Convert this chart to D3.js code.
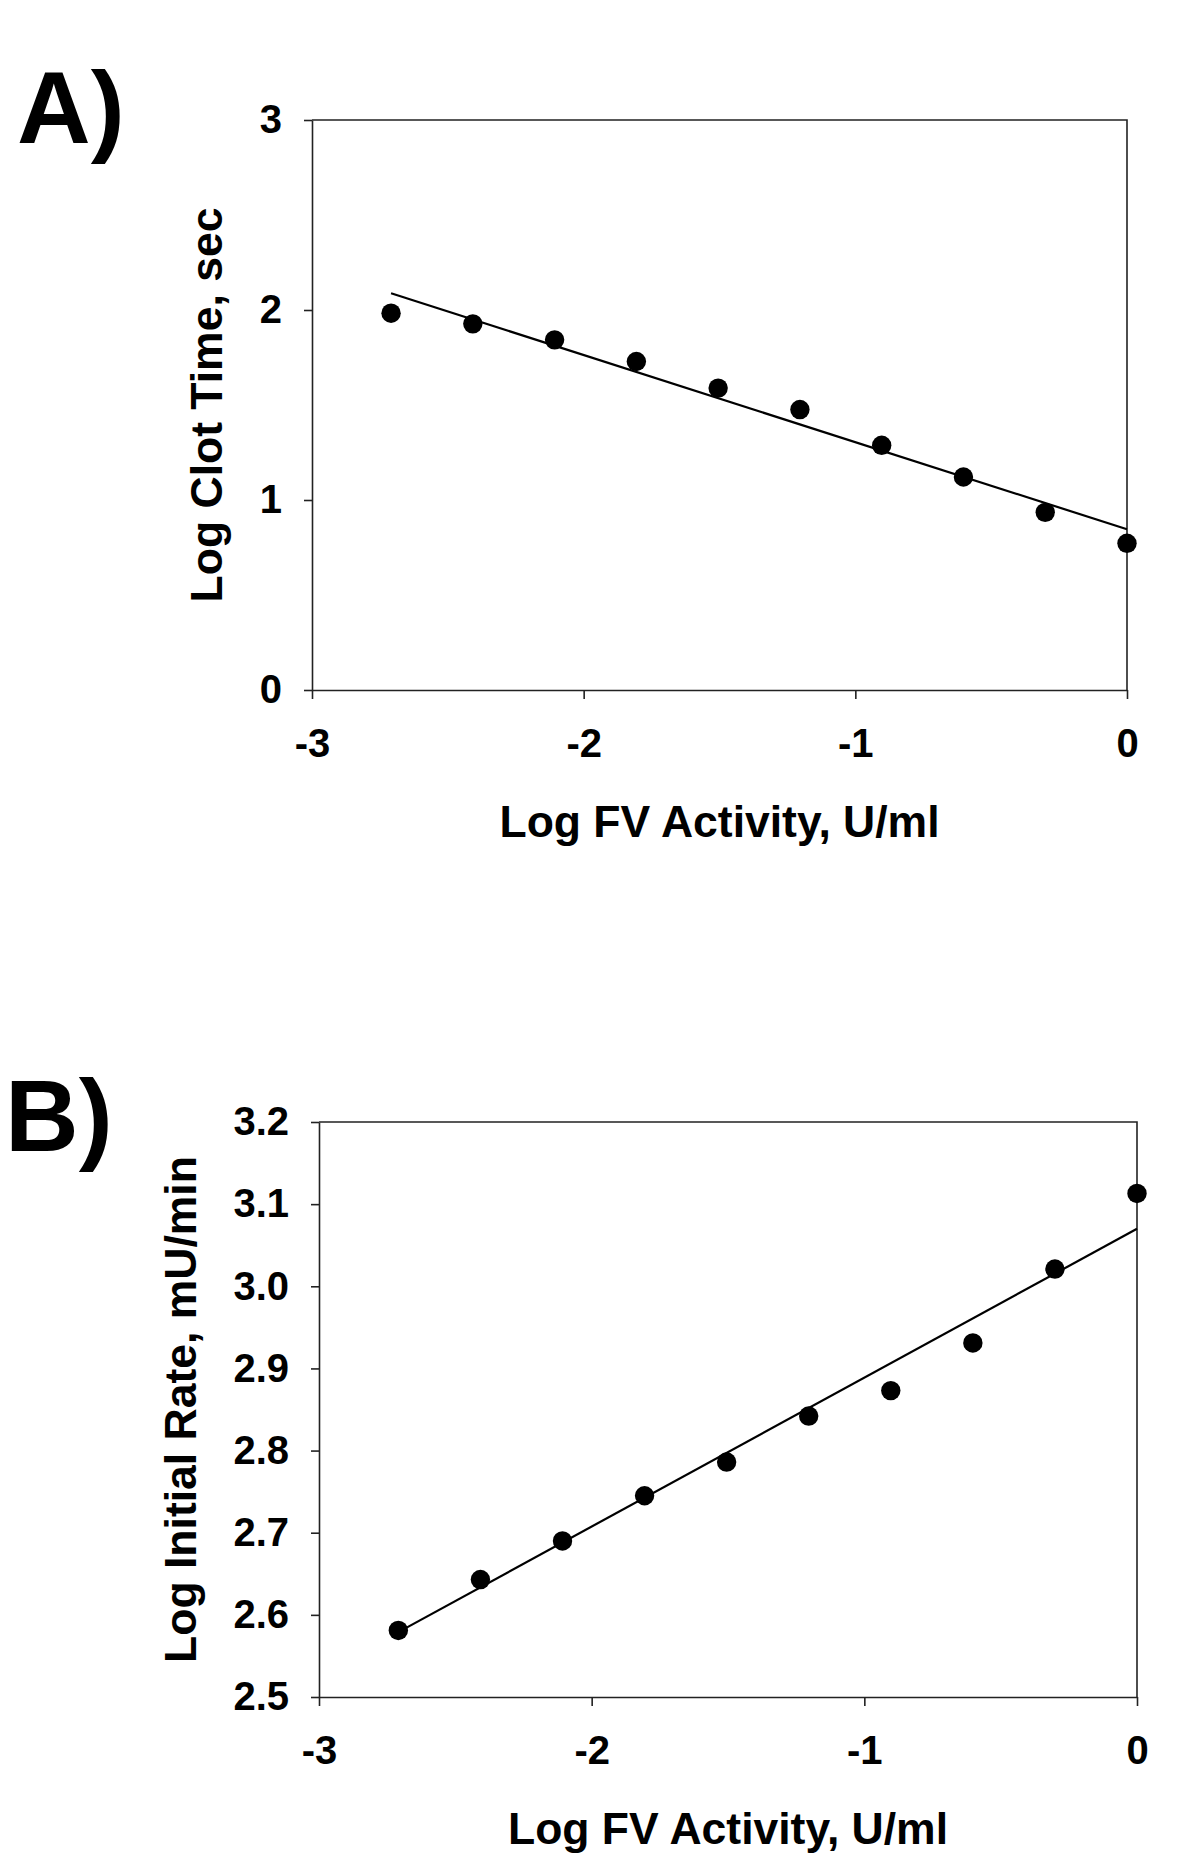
<!DOCTYPE html>
<html>
<head>
<meta charset="utf-8">
<script src="https://cdn.jsdelivr.net/npm/d3@7"></script>
<style>
  html, body { margin: 0; padding: 0; background: #fff; }
  svg { display: block; }
  text { font-family: "Liberation Sans", Arial, sans-serif; font-weight: bold; fill: #000; }
</style>
</head>
<body>
<script>
// ---- Data ----
const logFV = [-2.709, -2.408, -2.107, -1.806, -1.505, -1.204, -0.903, -0.602, -0.301, 0];
const logClotTime = [1.983, 1.927, 1.843, 1.729, 1.589, 1.476, 1.288, 1.121, 0.935, 0.772];
const logInitialRate = [2.581, 2.643, 2.690, 2.745, 2.786, 2.842, 2.873, 2.931, 3.021, 3.113];

const fitAX = [-2.709, 0];
const fitAY = [2.088, 0.846];
const fitBX = [-2.709, 0];
const fitBY = [2.579, 3.070];

const xTicks = [-3, -2, -1, 0];
const xTickLabels = ["-3", "-2", "-1", "0"];
const yTicksA = [0, 1, 2, 3];
const yTickLabelsA = ["0", "1", "2", "3"];
const yTicksB = [2.5, 2.6, 2.7, 2.8, 2.9, 3.0, 3.1, 3.2];
const yTickLabelsB = ["2.5", "2.6", "2.7", "2.8", "2.9", "3.0", "3.1", "3.2"];

const panelLabels = ["A)", "B)"];
const xTitle = "Log FV Activity, U/ml";
const yTitleA = "Log Clot Time, sec";
const yTitleB = "Log Initial Rate, mU/min";

// ---- Layout ----
const W = 1200, H = 1857;
const svg = d3.select("body").append("svg").attr("width", W).attr("height", H);

function panel(cfg) {
  const g = svg.append("g");
  const x = d3.scaleLinear().domain([-3, 0]).range([cfg.left, cfg.right]);
  const y = d3.scaleLinear().domain(cfg.yDomain).range([cfg.bottom, cfg.top]);

  // frame (top & right)
  g.append("path")
    .attr("d", `M${cfg.left},${cfg.top}H${cfg.right}V${cfg.bottom}`)
    .attr("fill", "none").attr("stroke", "#222").attr("stroke-width", 1.6);

  const xAxis = d3.axisBottom(x).tickValues(xTicks)
    .tickFormat((d, i) => xTickLabels[i]).tickSize(9).tickPadding(30).tickSizeOuter(0);
  const yAxis = d3.axisLeft(y).tickValues(cfg.yTicks)
    .tickFormat((d, i) => cfg.yTickLabels[i]).tickSize(8).tickPadding(22).tickSizeOuter(0);

  const gx = g.append("g").attr("transform", `translate(0,${cfg.bottom})`).call(xAxis);
  const gy = g.append("g").attr("transform", `translate(${cfg.left},0)`).call(yAxis);
  [gx, gy].forEach(a => {
    a.selectAll("path.domain").attr("stroke", "#222").attr("stroke-width", 1.6);
    a.selectAll(".tick line").attr("stroke", "#222").attr("stroke-width", 1.6);
    a.selectAll(".tick text")
      .style("font-family", '"Liberation Sans", Arial, sans-serif')
      .style("font-weight", "bold").style("font-size", "40px").attr("fill", "#000");
  });

  // regression line
  const line = d3.line().x(d => x(d[0])).y(d => y(d[1]));
  g.append("path")
    .datum(cfg.fitX.map((v, i) => [v, cfg.fitY[i]]))
    .attr("d", line).attr("fill", "none").attr("stroke", "#000").attr("stroke-width", 2.2);

  // points
  g.selectAll("circle.pt").data(logFV.map((v, i) => [v, cfg.yVals[i]]))
    .enter().append("circle").attr("class", "pt")
    .attr("cx", d => x(d[0])).attr("cy", d => y(d[1])).attr("r", 9.7).attr("fill", "#000");

  // titles
  g.append("text").attr("x", (cfg.left + cfg.right) / 2).attr("y", cfg.xTitleY)
    .attr("text-anchor", "middle").style("font-size", "44.5px").text(xTitle);
  g.append("text")
    .attr("transform", `translate(${cfg.yTitleX},${(cfg.top + cfg.bottom) / 2}) rotate(-90)`)
    .attr("text-anchor", "middle").style("font-size", "44.5px").text(cfg.yTitle);

  // panel label
  g.append("text").attr("x", cfg.labelX).attr("y", cfg.labelY)
    .style("font-size", "102px").text(cfg.label);
}

panel({
  left: 312, right: 1127, top: 120, bottom: 690,
  yDomain: [0, 3], yTicks: yTicksA, yTickLabels: yTickLabelsA,
  yVals: logClotTime, fitX: fitAX, fitY: fitAY,
  xTitleY: 837, yTitleX: 222, yTitle: yTitleA,
  label: panelLabels[0], labelX: 17, labelY: 143
});

panel({
  left: 319, right: 1137, top: 1122, bottom: 1697,
  yDomain: [2.5, 3.2], yTicks: yTicksB, yTickLabels: yTickLabelsB,
  yVals: logInitialRate, fitX: fitBX, fitY: fitBY,
  xTitleY: 1844, yTitleX: 196, yTitle: yTitleB,
  label: panelLabels[1], labelX: 5, labelY: 1151
});
</script>
</body>
</html>
